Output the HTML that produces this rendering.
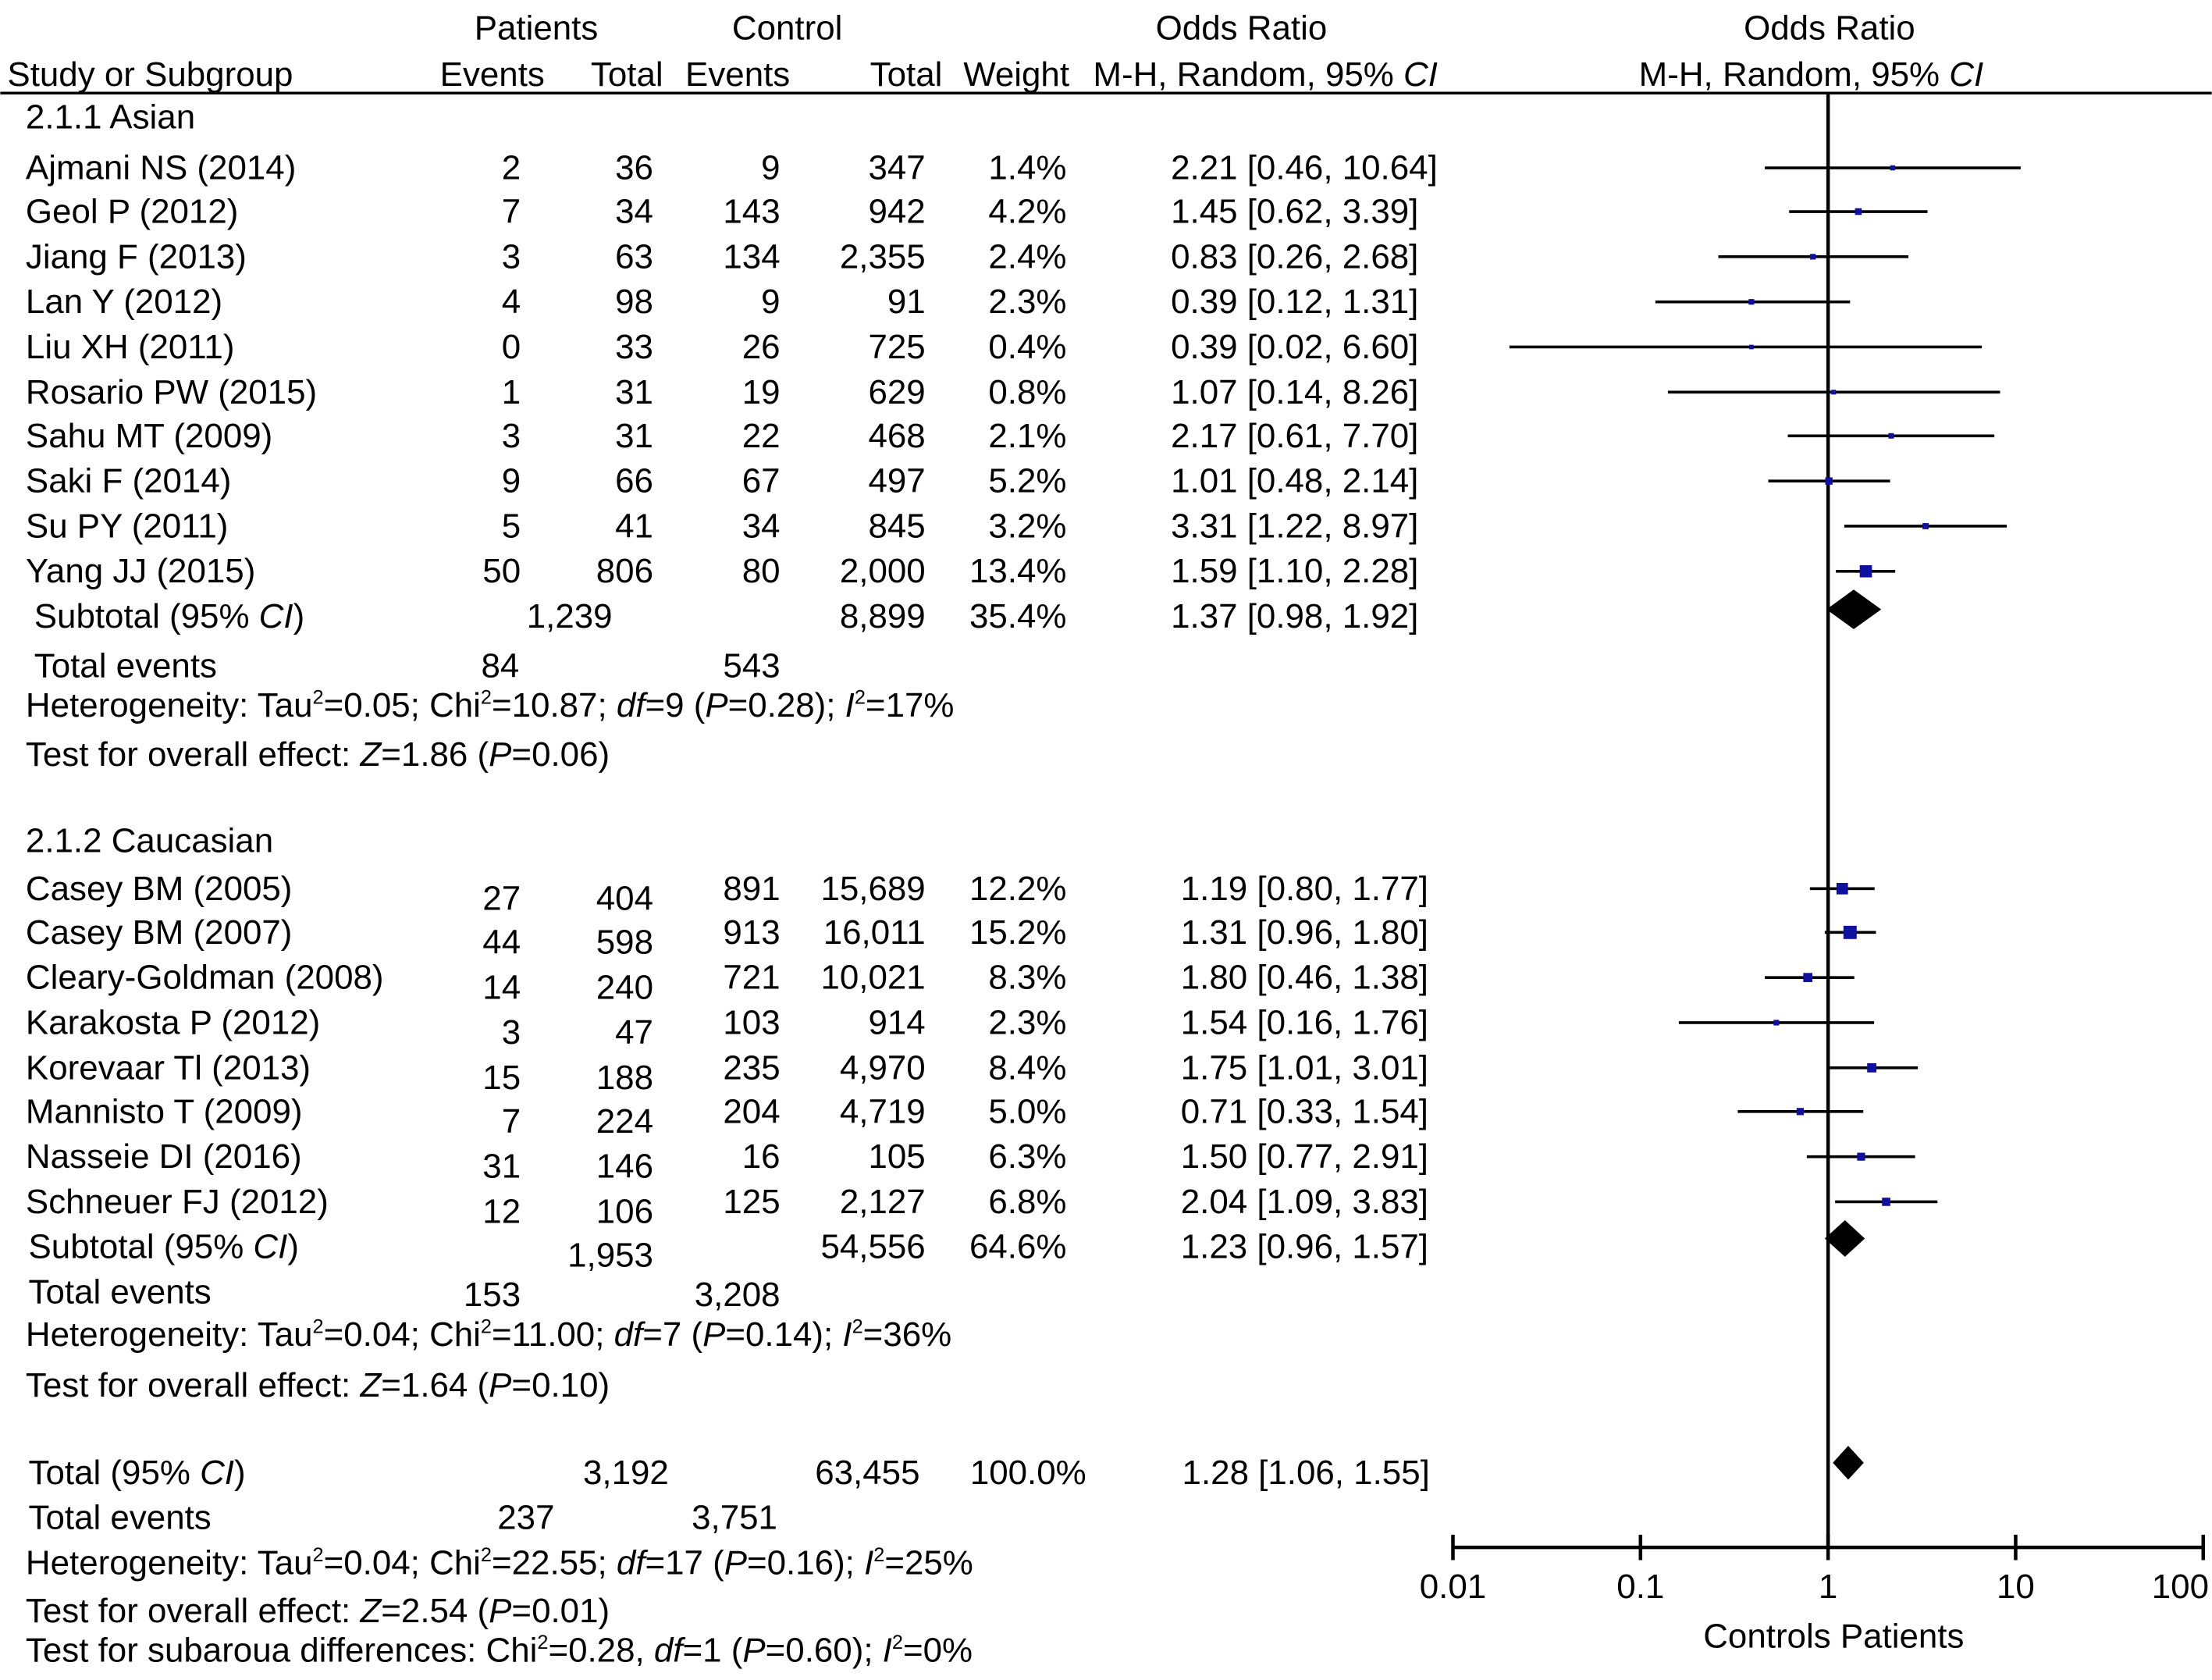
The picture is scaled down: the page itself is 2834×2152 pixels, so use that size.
<!DOCTYPE html>
<html><head><meta charset="utf-8"><style>
html,body{margin:0;padding:0;background:#fff}
svg{display:block}
text{font-family:"Liberation Sans",sans-serif;font-size:24.3px;fill:#000}
</style></head><body>
<svg id="chart" width="2834" height="2152" viewBox="0 0 1568 1191" xmlns="http://www.w3.org/2000/svg">
<g id="txt"></g>
<g id="plot"></g>
</svg>
<script>
// ---- data ----
const asianNames=["Ajmani NS (2014)","Geol P (2012)","Jiang F (2013)","Lan Y (2012)","Liu XH (2011)","Rosario PW (2015)","Sahu MT (2009)","Saki F (2014)","Su PY (2011)","Yang JJ (2015)"];
const asianPE=["2","7","3","4","0","1","3","9","5","50"];
const asianPT=["36","34","63","98","33","31","31","66","41","806"];
const asianCE=["9","143","134","9","26","19","22","67","34","80"];
const asianCT=["347","942","2,355","91","725","629","468","497","845","2,000"];
const asianW=[1.4,4.2,2.4,2.3,0.4,0.8,2.1,5.2,3.2,13.4];
const asianOR=[2.21,1.45,0.83,0.39,0.39,1.07,2.17,1.01,3.31,1.59];
const asianLo=[0.46,0.62,0.26,0.12,0.02,0.14,0.61,0.48,1.22,1.10];
const asianHi=[10.64,3.39,2.68,1.31,6.60,8.26,7.70,2.14,8.97,2.28];
const asianCI=["2.21 [0.46, 10.64]","1.45 [0.62, 3.39]","0.83 [0.26, 2.68]","0.39 [0.12, 1.31]","0.39 [0.02, 6.60]","1.07 [0.14, 8.26]","2.17 [0.61, 7.70]","1.01 [0.48, 2.14]","3.31 [1.22, 8.97]","1.59 [1.10, 2.28]"];
const cauNames=["Casey BM (2005)","Casey BM (2007)","Cleary-Goldman (2008)","Karakosta P (2012)","Korevaar Tl (2013)","Mannisto T (2009)","Nasseie DI (2016)","Schneuer FJ (2012)"];
const cauPE=["27","44","14","3","15","7","31","12"];
const cauPT=["404","598","240","47","188","224","146","106"];
const cauCE=["891","913","721","103","235","204","16","125"];
const cauCT=["15,689","16,011","10,021","914","4,970","4,719","105","2,127"];
const cauW=[12.2,15.2,8.3,2.3,8.4,5.0,6.3,6.8];
const cauOR=[1.19,1.31,0.78,0.53,1.71,0.71,1.50,2.04];
const cauLo=[0.80,0.96,0.46,0.16,1.01,0.33,0.77,1.09];
const cauHi=[1.77,1.80,1.38,1.76,3.01,1.54,2.91,3.83];
const cauCI=["1.19 [0.80, 1.77]","1.31 [0.96, 1.80]","1.80 [0.46, 1.38]","1.54 [0.16, 1.76]","1.75 [1.01, 3.01]","0.71 [0.33, 1.54]","1.50 [0.77, 2.91]","2.04 [1.09, 3.83]"];
const diaOR=[1.37,1.23,1.28];
const diaLo=[0.98,0.96,1.06];
const diaHi=[1.92,1.57,1.55];
const tickVals=[0.01,0.1,1,10,100];
const tickLabels=["0.01","0.1","1","10","100"];

const NS="http://www.w3.org/2000/svg";
const T=document.getElementById('txt'), P=document.getElementById('plot');
function t(x,y,s,anchor,name){const e=document.createElementNS(NS,'text');e.setAttribute('x',x);e.setAttribute('y',y);if(anchor)e.setAttribute('text-anchor',anchor);e.innerHTML=s;


T.appendChild(e);return e;}
function el(tag,at,name,parent){const e=document.createElementNS(NS,tag);for(const k in at)e.setAttribute(k,at[k]);


(parent||P).appendChild(e);return e;}
const X=v=>1296+133*Math.log10(v);
const B=8;
const SUP="font-size='14' dy='-9'", UN="dy='9'";
// header
t(380,20+B,"Patients","middle","patients-header");t(558,20+B,"Control","middle","control-header");
t(880,20+B,"Odds Ratio","middle","odds-ratio-header");t(1297,20+B,"Odds Ratio","middle","odds-ratio-plot-header");
t(5,53+B,"Study or Subgroup","start","study-col-header");t(386,53+B,"Events","end","patients-events-header");t(470,53+B,"Total","end","patients-total-header");
t(560,53+B,"Events","end","control-events-header");t(668,53+B,"Total","end","control-total-header");t(758,53+B,"Weight","end","weight-header");
t(897,53+B,"M-H, Random, 95% <tspan font-style='italic'>CI</tspan>","middle","method-header");
t(1284,53+B,"M-H, Random, 95% <tspan font-style='italic'>CI</tspan>","middle","method-plot-header");
el('line',{x1:0,y1:66,x2:1568,y2:66,stroke:'#000','stroke-width':2},'header-rule');
el('line',{x1:1296,y1:66,x2:1296,y2:1097,stroke:'#000','stroke-width':2.5},'null-line');
// axis
el('line',{x1:X(0.01),y1:1097,x2:X(100),y2:1097,stroke:'#000','stroke-width':2.5},'x-axis');
tickVals.forEach((v,i)=>{el('line',{x1:X(v),y1:1088,x2:X(v),y2:1106,stroke:'#000','stroke-width':2.5},'x-tick');
t(i==4?1566:X(v),1133,tickLabels[i],i==4?"end":"middle","x-tick-label");});
t(1300,1168,"Controls Patients","middle","x-axis-title");
function rows(names,pe,pt,ce,ct,w,or,lo,hi,ci,ys,off){
 names.forEach((n,i)=>{const y=ys[i]+B;
  t(18,y,n,"start","study-name");t(369,y+off,pe[i],"end","patients-events");t(463,y+off,pt[i],"end","patients-total");
  t(553,y,ce[i],"end","control-events");t(656,y,ct[i],"end","control-total");t(756,y,w[i].toFixed(1)+"%","end","weight");
  t(off?837:830,y,ci[i],"start","odds-ratio-ci");
  el('line',{x1:X(lo[i]),y1:ys[i],x2:X(hi[i]),y2:ys[i],stroke:'#000','stroke-width':2},'ci-line');
  const s=3+w[i]*0.42;
  el('rect',{x:X(or[i])-s/2,y:ys[i]-s/2,width:s,height:s,fill:'#1010a0'},'study-marker');
 });}
t(18,83+B,"2.1.1 Asian","start","asian-subgroup-title");
rows(asianNames,asianPE,asianPT,asianCE,asianCT,asianW,asianOR,asianLo,asianHi,asianCI,[119,150,182,214,246,278,309,341,373,405],0);
t(18,596+B,"2.1.2 Caucasian","start","caucasian-subgroup-title");
rows(cauNames,cauPE,cauPT,cauCE,cauCT,cauW,cauOR,cauLo,cauHi,cauCI,[630,661,693,725,757,788,820,852],7);
function dia(i,y,h){const d=`M${X(diaLo[i])},${y} L${X(diaOR[i])},${y-h} L${X(diaHi[i])},${y} L${X(diaOR[i])},${y+h} Z`;el('path',{d:d,fill:'#000'},'summary-diamond');}
dia(0,432,14);dia(1,878,13);dia(2,1037,12);
// subtotals
t(24,437+B,"Subtotal (95% <tspan font-style='italic'>CI</tspan>)","start","asian-subtotal");t(434,437+B,"1,239","end");t(656,437+B,"8,899","end");t(756,437+B,"35.4%","end");t(830,437+B,"1.37 [0.98, 1.92]");
t(24,472+B,"Total events","start");t(368,472+B,"84","end");t(553,472+B,"543","end");
t(18,500+B,`Heterogeneity: Tau<tspan ${SUP}>2</tspan><tspan ${UN}>=0.05; Chi</tspan><tspan ${SUP}>2</tspan><tspan ${UN}>=10.87; </tspan><tspan font-style='italic'>df</tspan>=9 (<tspan font-style='italic'>P</tspan>=0.28); <tspan font-style='italic'>I</tspan><tspan ${SUP}>2</tspan><tspan ${UN}>=17%</tspan>`,"start","asian-heterogeneity");
t(18,535+B,"Test for overall effect: <tspan font-style='italic'>Z</tspan>=1.86 (<tspan font-style='italic'>P</tspan>=0.06)","start","asian-overall-test");
t(20,884+B,"Subtotal (95% <tspan font-style='italic'>CI</tspan>)","start","caucasian-subtotal");t(463,890+B,"1,953","end");t(656,884+B,"54,556","end");t(756,884+B,"64.6%","end");t(837,884+B,"1.23 [0.96, 1.57]");
t(20,916+B,"Total events","start");t(369,918+B,"153","end");t(553,918+B,"3,208","end");
t(18,946+B,`Heterogeneity: Tau<tspan ${SUP}>2</tspan><tspan ${UN}>=0.04; Chi</tspan><tspan ${SUP}>2</tspan><tspan ${UN}>=11.00; </tspan><tspan font-style='italic'>df</tspan>=7 (<tspan font-style='italic'>P</tspan>=0.14); <tspan font-style='italic'>I</tspan><tspan ${SUP}>2</tspan><tspan ${UN}>=36%</tspan>`,"start","caucasian-heterogeneity");
t(18,982+B,"Test for overall effect: <tspan font-style='italic'>Z</tspan>=1.64 (<tspan font-style='italic'>P</tspan>=0.10)","start","caucasian-overall-test");
t(20,1044+B,"Total (95% <tspan font-style='italic'>CI</tspan>)","start","total-row");t(474,1044+B,"3,192","end");t(652,1044+B,"63,455","end");t(770,1044+B,"100.0%","end");t(838,1044+B,"1.28 [1.06, 1.55]");
t(20,1076+B,"Total events","start");t(393,1076+B,"237","end");t(551,1076+B,"3,751","end");
t(18,1108+B,`Heterogeneity: Tau<tspan ${SUP}>2</tspan><tspan ${UN}>=0.04; Chi</tspan><tspan ${SUP}>2</tspan><tspan ${UN}>=22.55; </tspan><tspan font-style='italic'>df</tspan>=17 (<tspan font-style='italic'>P</tspan>=0.16); <tspan font-style='italic'>I</tspan><tspan ${SUP}>2</tspan><tspan ${UN}>=25%</tspan>`,"start","total-heterogeneity");
t(18,1142+B,"Test for overall effect: <tspan font-style='italic'>Z</tspan>=2.54 (<tspan font-style='italic'>P</tspan>=0.01)","start","total-overall-test");
t(18,1170+B,`Test for subaroua differences: Chi<tspan ${SUP}>2</tspan><tspan ${UN}>=0.28, </tspan><tspan font-style='italic'>df</tspan>=1 (<tspan font-style='italic'>P</tspan>=0.60); <tspan font-style='italic'>I</tspan><tspan ${SUP}>2</tspan><tspan ${UN}>=0%</tspan>`,"start","subgroup-difference-test");
</script>
</body></html>
